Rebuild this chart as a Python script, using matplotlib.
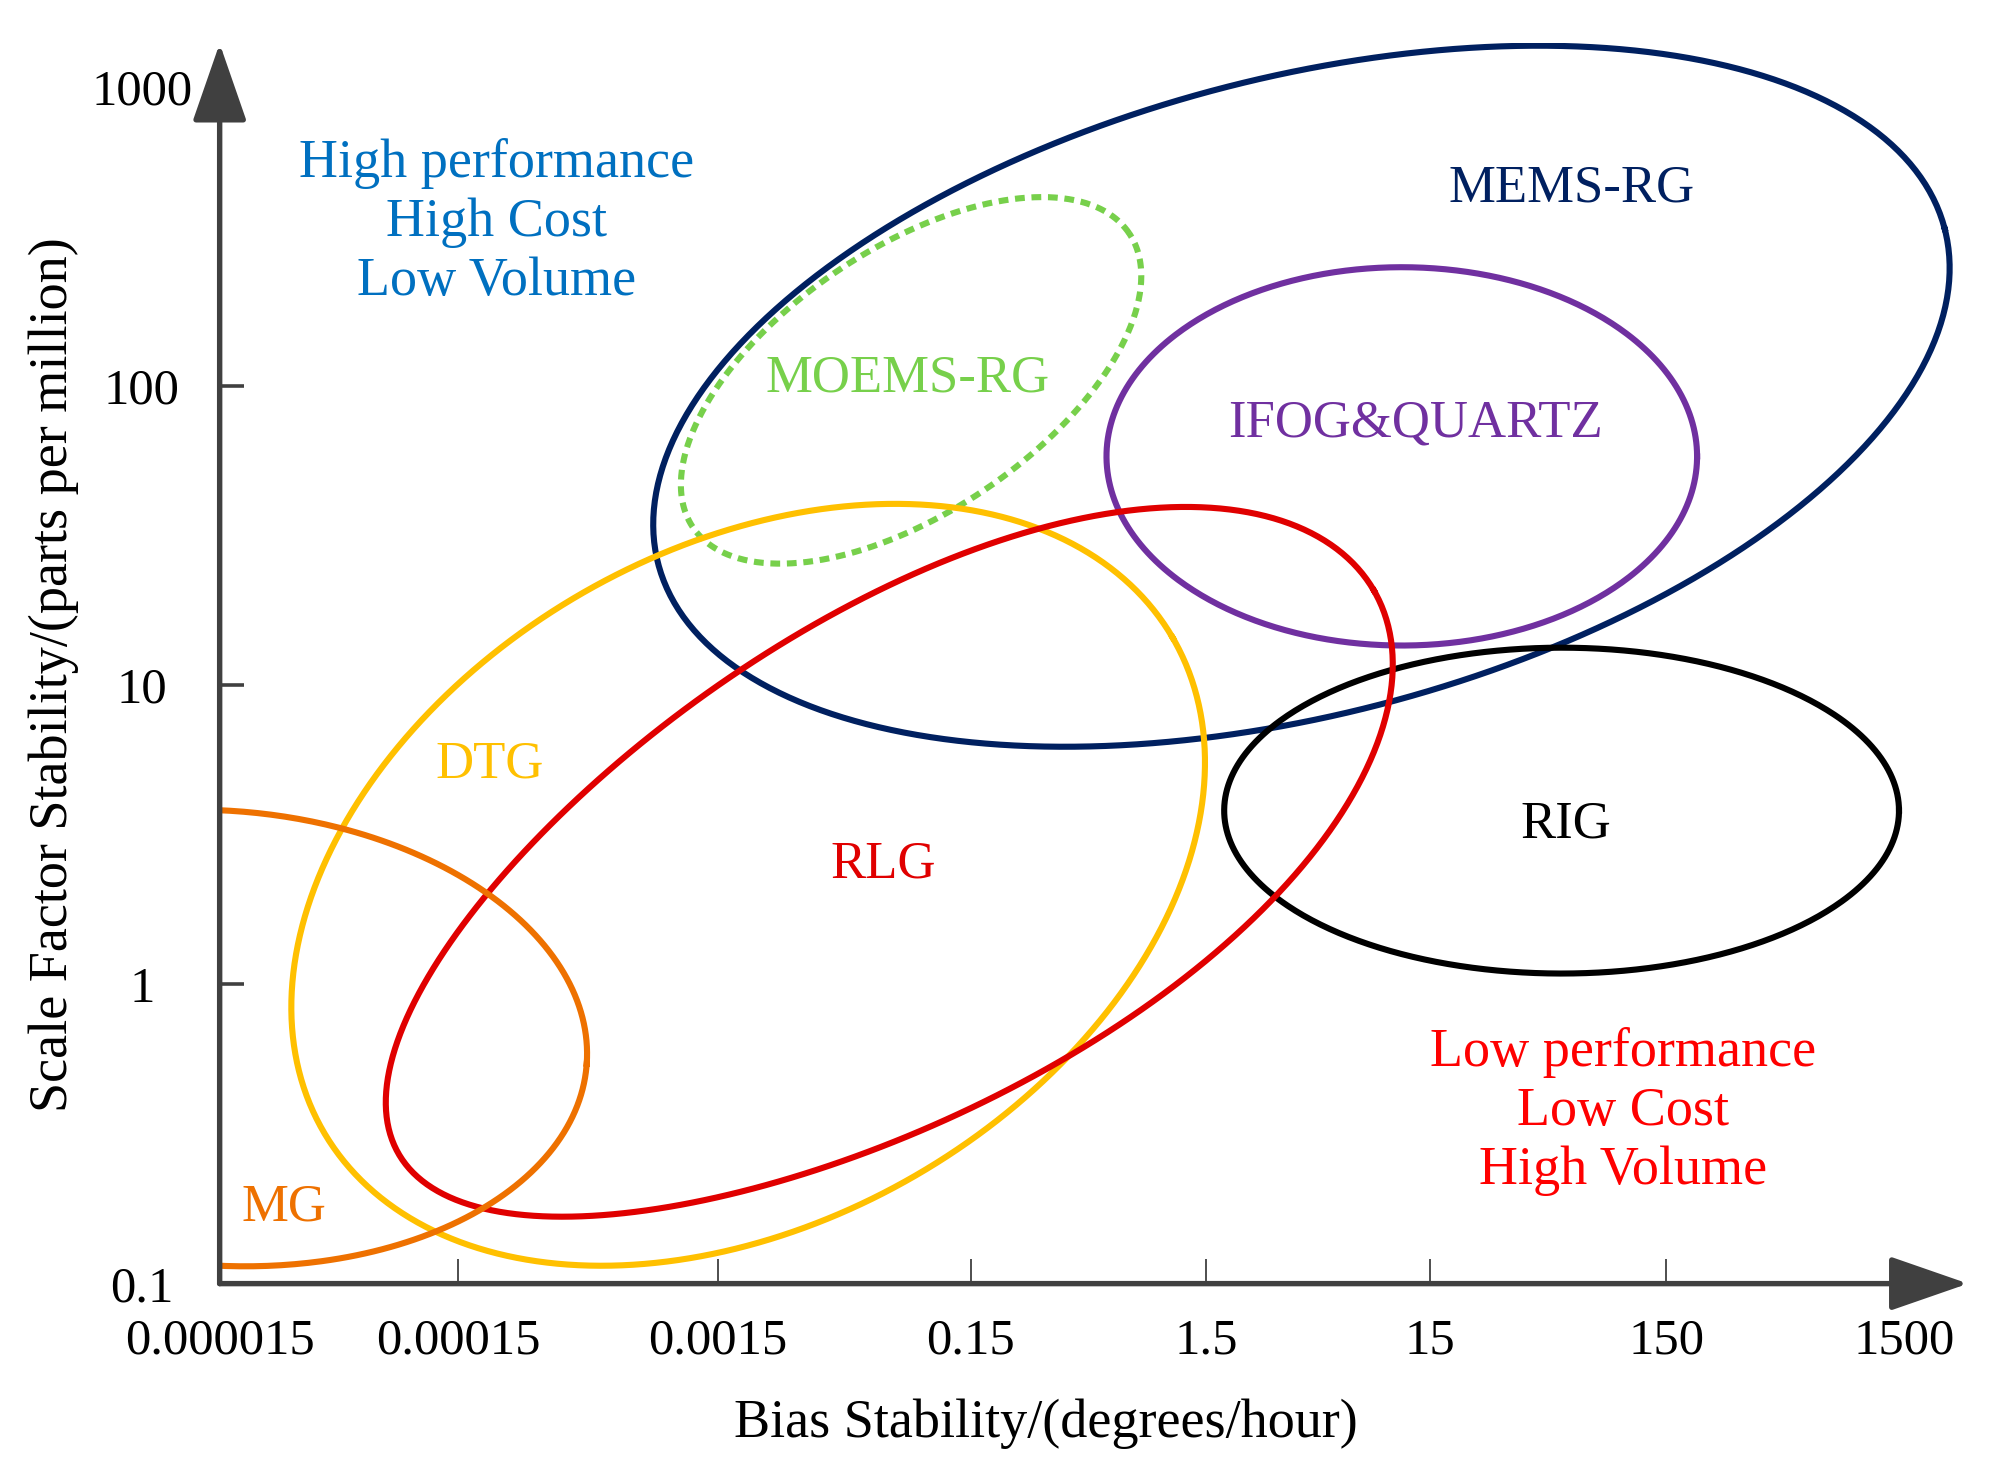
import numpy as np
import matplotlib
matplotlib.use('Agg')
import matplotlib.pyplot as plt

plt.rcParams['font.family'] = ['Liberation Serif', 'DejaVu Serif']

# axis ticks (x is an ordinal scale of bias stability classes)
x_labels = ['0.000015', '0.00015', '0.0015', '0.15', '1.5', '15', '150', '1500']
x_pos = [0, 0.99, 2.07, 3.12, 4.1, 5.03, 6.01, 7.0]
y_ticks = [0.1, 1, 10, 100, 1000]
y_labels = ['0.1', '1', '10', '100', '1000']

# gyro technology regions: centre (x class, log10 ppm), semi axes, tilt
names = ['MEMS-RG', 'MOEMS-RG', 'IFOG&QUARTZ', 'RIG', 'DTG', 'RLG', 'MG']
cx = [4.495, 2.873, 4.912, 5.576, 2.196, 2.77, 0.0]
cy = [1.966, 2.019, 1.765, 0.581, 0.333, 0.375, -0.179]
semi_a = [2.762, 1.093, 1.227, 1.402, 2.041, 2.34, 1.529]
semi_b = [1.322, 0.548, 0.786, 0.677, 1.394, 1.036, 0.945]
tilt = [14.6, 34, 0, 0, 30.2, 30.0, -4]
egg = [0, 0, 0, 0, 0, 0.1, 0]
colors = ['#002060', '#77D04B', '#7030A0', '#000000', '#FFC000', '#E00000', '#EE7100']
styles = ['-', (0, (1.6, 1.1)), '-', '-', '-', '-', '-']

# where the region names sit
name_x = [5.619, 2.857, 4.971, 5.592, 1.121, 2.756, 0.266]
name_y = [459, 106, 75, 3.42, 5.43, 2.52, 0.179]

fig = plt.figure(figsize=(20, 14.79), dpi=100)
ax = fig.add_axes([0.10983, 0.1321, 0.8742, 0.8385])
xmax, ymax = 7.265, 10 ** 3.145
ax.set_xlim(0, xmax)
ax.set_yscale('log')
ax.set_ylim(0.1, ymax)
for s in ax.spines.values():
    s.set_visible(False)

# pixels per x unit vs pixels per decade, so tilted ellipses look right
W, H = fig.get_size_inches() * fig.dpi
ratio = (0.8742 * W / xmax) / (0.8385 * H / np.log10(ymax / 0.1))

t = np.linspace(0, 2 * np.pi, 500)
for i in range(len(names)):
    th = np.radians(tilt[i])
    u = semi_a[i] * np.cos(t)
    v = semi_b[i] * np.sin(t) * (1 + egg[i] * np.cos(t))
    x = cx[i] + u * np.cos(th) - v * np.sin(th)
    y = cy[i] + (u * np.sin(th) + v * np.cos(th)) * ratio
    ax.plot(x, 10 ** y, color=colors[i], lw=4.4, ls=styles[i])
    ax.text(name_x[i], name_y[i], names[i], color=colors[i], fontsize=38,
            ha='center', va='center')

ax.text(1.152, 352, 'High performance\nHigh Cost\nLow Volume', color='#0070C0',
        fontsize=39, ha='center', va='center', linespacing=1.225)
ax.text(5.831, 0.377, 'Low performance\nLow Cost\nHigh Volume', color='#FF0000',
        fontsize=39, ha='center', va='center', linespacing=1.225)

# axes with arrow heads
arrow = dict(arrowstyle='-|>,head_length=4.9,head_width=1.7', color='#404040',
             lw=3.9, shrinkA=0, shrinkB=0)
ax.annotate('', xy=(xmax, 0.1), xytext=(0, 0.1), arrowprops=arrow,
            annotation_clip=False)
ax.annotate('', xy=(0, ymax), xytext=(0, 0.1), arrowprops=arrow,
            annotation_clip=False)

ax.set_xticks(x_pos)
ax.set_xticklabels(x_labels)
ax.set_yticks(y_ticks)
ax.set_yticklabels(y_labels)
ax.minorticks_off()
ax.tick_params(axis='x', direction='in', length=18, width=1.3, color='#404040',
               labelsize=36.5, pad=25)
ax.tick_params(axis='y', direction='in', length=17, width=2.6, color='#404040',
               labelsize=36.5, pad=56)
for lab in ax.get_yticklabels():
    lab.set_horizontalalignment('center')
for tk in [ax.xaxis.get_major_ticks()[0], ax.xaxis.get_major_ticks()[-1],
           ax.yaxis.get_major_ticks()[0], ax.yaxis.get_major_ticks()[-1]]:
    tk.tick1line.set_visible(False)

fig.text(0.523, 0.0371, 'Bias Stability/(degrees/hour)', fontsize=39,
         ha='center', va='center')
fig.text(0.0268, 0.544, 'Scale Factor Stability/(parts per million)', fontsize=39,
         ha='center', va='center', rotation=90)

fig.savefig('out.png', dpi=100)
